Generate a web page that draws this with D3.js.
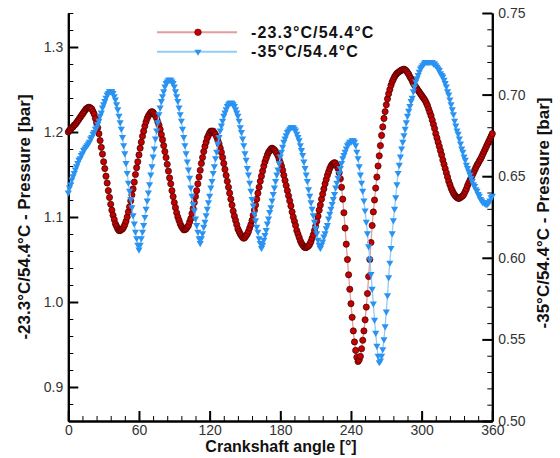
<!DOCTYPE html>
<html>
<head>
<meta charset="utf-8">
<script src="https://cdn.jsdelivr.net/npm/d3@7"></script>
<style>
  body { margin: 0; background: #fff; }
  text { font-family: "Liberation Sans", Arial, sans-serif; }
</style>
</head>
<body>
<svg width="560" height="458"></svg>
<script>
// crank angle step between samples [deg]
const angleStep = 1;

// -23.3°C/54.4°C pressure [bar], left axis, 0..360 deg
const pressureWarm = [
  1.200, 1.202, 1.203, 1.205, 1.206, 1.208, 1.209, 1.211, 1.213, 1.215,
  1.217, 1.219, 1.221, 1.223, 1.225, 1.227, 1.228, 1.229, 1.229, 1.228,
  1.227, 1.224, 1.221, 1.216, 1.211, 1.205, 1.198, 1.190, 1.182, 1.174,
  1.165, 1.157, 1.148, 1.140, 1.131, 1.123, 1.115, 1.108, 1.102, 1.097,
  1.092, 1.089, 1.086, 1.084, 1.084, 1.085, 1.086, 1.088, 1.091, 1.095,
  1.100, 1.106, 1.112, 1.119, 1.126, 1.133, 1.141, 1.150, 1.158, 1.165,
  1.173, 1.181, 1.188, 1.195, 1.201, 1.207, 1.212, 1.216, 1.219, 1.221,
  1.223, 1.224, 1.223, 1.221, 1.219, 1.216, 1.212, 1.208, 1.203, 1.197,
  1.191, 1.184, 1.177, 1.170, 1.162, 1.154, 1.146, 1.139, 1.131, 1.124,
  1.117, 1.111, 1.105, 1.100, 1.096, 1.092, 1.089, 1.087, 1.085, 1.085,
  1.086, 1.088, 1.090, 1.094, 1.098, 1.104, 1.110, 1.117, 1.124, 1.131,
  1.139, 1.147, 1.155, 1.163, 1.170, 1.177, 1.183, 1.188, 1.193, 1.196,
  1.199, 1.201, 1.201, 1.201, 1.199, 1.197, 1.194, 1.190, 1.186, 1.181,
  1.176, 1.170, 1.163, 1.156, 1.149, 1.142, 1.135, 1.128, 1.121, 1.114,
  1.107, 1.101, 1.096, 1.091, 1.086, 1.083, 1.080, 1.078, 1.076, 1.075,
  1.076, 1.078, 1.080, 1.083, 1.087, 1.091, 1.096, 1.102, 1.108, 1.114,
  1.121, 1.128, 1.135, 1.142, 1.148, 1.154, 1.160, 1.165, 1.169, 1.173,
  1.176, 1.178, 1.180, 1.181, 1.180, 1.179, 1.177, 1.175, 1.172, 1.168,
  1.164, 1.160, 1.155, 1.149, 1.143, 1.137, 1.131, 1.125, 1.119, 1.113,
  1.106, 1.100, 1.095, 1.090, 1.084, 1.080, 1.076, 1.072, 1.069, 1.067,
  1.065, 1.064, 1.064, 1.065, 1.066, 1.068, 1.071, 1.075, 1.079, 1.084,
  1.089, 1.095, 1.101, 1.108, 1.114, 1.121, 1.127, 1.133, 1.139, 1.144,
  1.149, 1.153, 1.157, 1.160, 1.162, 1.163, 1.164, 1.163, 1.160, 1.157,
  1.152, 1.145, 1.135, 1.121, 1.105, 1.087, 1.068, 1.050, 1.032, 1.015,
  0.998, 0.982, 0.966, 0.953, 0.943, 0.935, 0.930, 0.932, 0.936, 0.945,
  0.955, 0.966, 0.979, 0.994, 1.010, 1.030, 1.050, 1.070, 1.090, 1.106,
  1.120, 1.134, 1.147, 1.160, 1.172, 1.184, 1.196, 1.206, 1.216, 1.224,
  1.232, 1.239, 1.245, 1.250, 1.255, 1.259, 1.262, 1.265, 1.267, 1.269,
  1.270, 1.271, 1.272, 1.273, 1.273, 1.274, 1.273, 1.272, 1.270, 1.268,
  1.265, 1.263, 1.260, 1.257, 1.255, 1.253, 1.251, 1.249, 1.247, 1.245,
  1.243, 1.241, 1.239, 1.237, 1.234, 1.231, 1.227, 1.223, 1.219, 1.214,
  1.209, 1.204, 1.198, 1.193, 1.188, 1.183, 1.178, 1.173, 1.167, 1.162,
  1.157, 1.152, 1.147, 1.142, 1.138, 1.134, 1.131, 1.128, 1.126, 1.124,
  1.123, 1.122, 1.122, 1.123, 1.124, 1.125, 1.127, 1.130, 1.133, 1.137,
  1.140, 1.143, 1.146, 1.149, 1.152, 1.155, 1.158, 1.161, 1.163, 1.166,
  1.168, 1.171, 1.174, 1.177, 1.180, 1.183, 1.186, 1.189, 1.192, 1.195,
  1.198
];

// -35°C/54.4°C pressure [bar], right axis, 0..360 deg
const pressureCold = [
  0.640, 0.643, 0.645, 0.648, 0.650, 0.652, 0.654, 0.656, 0.658, 0.660,
  0.661, 0.663, 0.664, 0.666, 0.667, 0.668, 0.669, 0.670, 0.671, 0.673,
  0.674, 0.676, 0.677, 0.679, 0.680, 0.682, 0.684, 0.687, 0.689, 0.692,
  0.694, 0.696, 0.698, 0.700, 0.701, 0.702, 0.702, 0.702, 0.701, 0.699,
  0.697, 0.694, 0.691, 0.687, 0.683, 0.679, 0.674, 0.669, 0.664, 0.658,
  0.652, 0.646, 0.641, 0.636, 0.631, 0.626, 0.621, 0.616, 0.612, 0.608,
  0.605, 0.608, 0.612, 0.616, 0.620, 0.625, 0.630, 0.635, 0.640, 0.645,
  0.651, 0.656, 0.662, 0.667, 0.673, 0.678, 0.683, 0.688, 0.692, 0.696,
  0.699, 0.702, 0.705, 0.707, 0.708, 0.709, 0.709, 0.709, 0.708, 0.707,
  0.705, 0.702, 0.699, 0.696, 0.692, 0.688, 0.684, 0.679, 0.674, 0.669,
  0.664, 0.659, 0.654, 0.649, 0.643, 0.638, 0.633, 0.629, 0.624, 0.620,
  0.616, 0.612, 0.609, 0.612, 0.615, 0.619, 0.622, 0.626, 0.630, 0.634,
  0.638, 0.643, 0.647, 0.652, 0.656, 0.661, 0.665, 0.670, 0.674, 0.678,
  0.681, 0.684, 0.687, 0.689, 0.691, 0.693, 0.694, 0.695, 0.695, 0.695,
  0.694, 0.693, 0.691, 0.689, 0.687, 0.684, 0.680, 0.677, 0.673, 0.669,
  0.664, 0.660, 0.655, 0.651, 0.646, 0.641, 0.636, 0.632, 0.627, 0.623,
  0.619, 0.616, 0.612, 0.609, 0.606, 0.608, 0.611, 0.614, 0.617, 0.621,
  0.624, 0.628, 0.631, 0.635, 0.639, 0.643, 0.647, 0.651, 0.654, 0.658,
  0.662, 0.665, 0.668, 0.671, 0.673, 0.675, 0.677, 0.678, 0.679, 0.680,
  0.680, 0.680, 0.679, 0.678, 0.676, 0.674, 0.672, 0.669, 0.666, 0.663,
  0.659, 0.655, 0.651, 0.647, 0.642, 0.638, 0.634, 0.630, 0.626, 0.622,
  0.618, 0.615, 0.611, 0.608, 0.606, 0.608, 0.610, 0.613, 0.615, 0.618,
  0.620, 0.624, 0.627, 0.630, 0.633, 0.636, 0.639, 0.643, 0.646, 0.649,
  0.652, 0.655, 0.658, 0.661, 0.663, 0.665, 0.667, 0.669, 0.670, 0.671,
  0.671, 0.672, 0.672, 0.671, 0.669, 0.665, 0.661, 0.656, 0.651, 0.646,
  0.641, 0.635, 0.629, 0.622, 0.615, 0.607, 0.599, 0.590, 0.581, 0.572,
  0.562, 0.554, 0.546, 0.540, 0.536, 0.537, 0.540, 0.544, 0.550, 0.558,
  0.567, 0.577, 0.588, 0.597, 0.606, 0.615, 0.623, 0.630, 0.637, 0.645,
  0.652, 0.657, 0.662, 0.667, 0.671, 0.675, 0.679, 0.683, 0.687, 0.690,
  0.693, 0.696, 0.698, 0.702, 0.705, 0.708, 0.710, 0.712, 0.714, 0.716,
  0.717, 0.718, 0.719, 0.720, 0.720, 0.720, 0.720, 0.720, 0.720, 0.720,
  0.719, 0.719, 0.718, 0.717, 0.716, 0.715, 0.713, 0.712, 0.711, 0.709,
  0.707, 0.705, 0.702, 0.700, 0.697, 0.694, 0.691, 0.688, 0.684, 0.681,
  0.678, 0.676, 0.673, 0.670, 0.667, 0.665, 0.662, 0.660, 0.657, 0.655,
  0.653, 0.651, 0.649, 0.647, 0.645, 0.644, 0.642, 0.641, 0.639, 0.638,
  0.636, 0.635, 0.634, 0.634, 0.633, 0.633, 0.633, 0.634, 0.635, 0.637,
  0.638
];

const seriesNames = ["-23.3°C/54.4°C", "-35°C/54.4°C"];
const xTicks = [0, 60, 120, 180, 240, 300, 360];
const leftTicks = [0.9, 1.0, 1.1, 1.2, 1.3];
const rightTicks = [0.50, 0.55, 0.60, 0.65, 0.70, 0.75];
const xTitle = "Crankshaft angle [°]";
const leftTitle = "-23.3°C/54.4°C - Pressure [bar]";
const rightTitle = "-35°C/54.4°C - Pressure [bar]";

const warmColor = "#c40000", warmLine = "#e39d9d";
const coldColor = "#2a93f2", coldLine = "#93ccf4";

const svg = d3.select("svg");

const x = d3.scaleLinear().domain([0, 360]).range([68.3, 492.3]);
const yLeft = d3.scaleLinear().domain([0.86, 1.34]).range([421, 13]);
const yRight = d3.scaleLinear().domain([0.5, 0.75]).range([421, 13]);

const minor = (lo, hi, step) => d3.range(Math.round((hi - lo) / step) + 1).map(i => +(lo + i * step).toFixed(3));

// minor ticks first, majors on top
const styleAxis = (g, width) => {
  g.selectAll(".domain").attr("stroke", "#000").attr("stroke-width", 2);
  g.selectAll(".tick line").attr("stroke", "#000").attr("stroke-width", width);
  g.selectAll(".tick text").attr("fill", "#333").style("font-size", "14px");
};

svg.append("g").attr("transform", "translate(0,421)")
  .call(d3.axisBottom(x).tickValues(minor(0, 360, 12)).tickSize(-5).tickSizeOuter(0).tickFormat(""))
  .call(g => styleAxis(g, 1));
svg.append("g").attr("transform", "translate(68.3,0)")
  .call(d3.axisLeft(yLeft).tickValues(minor(0.86, 1.34, 0.02)).tickSize(-5).tickSizeOuter(0).tickFormat(""))
  .call(g => styleAxis(g, 1));
svg.append("g").attr("transform", "translate(492.3,0)")
  .call(d3.axisRight(yRight).tickValues(minor(0.5, 0.75, 0.01)).tickSize(-5).tickSizeOuter(0).tickFormat(""))
  .call(g => styleAxis(g, 1));

svg.append("g").attr("transform", "translate(0,421)")
  .call(d3.axisBottom(x).tickValues(xTicks).tickSize(-10).tickSizeOuter(0).tickPadding(4).tickFormat(d3.format("d")))
  .call(g => styleAxis(g, 2));
svg.append("g").attr("transform", "translate(68.3,0)")
  .call(d3.axisLeft(yLeft).tickValues(leftTicks).tickSize(-10).tickSizeOuter(0).tickPadding(5).tickFormat(d3.format(".1f")))
  .call(g => styleAxis(g, 2));
svg.append("g").attr("transform", "translate(492.3,0)")
  .call(d3.axisRight(yRight).tickValues(rightTicks).tickSize(-10).tickSizeOuter(0).tickPadding(6).tickFormat(d3.format(".2f")))
  .call(g => styleAxis(g, 2));

// axis titles
svg.append("text").attr("x", 281).attr("y", 452).attr("text-anchor", "middle")
  .style("font-size", "16px").style("font-weight", "bold").attr("fill", "#111").text(xTitle);
svg.append("text").attr("transform", "translate(30,217) rotate(-90)").attr("text-anchor", "middle")
  .style("font-size", "17px").style("font-weight", "bold").attr("fill", "#111").text(leftTitle);
svg.append("text").attr("transform", "translate(549,213) rotate(-90)").attr("text-anchor", "middle")
  .style("font-size", "17px").style("font-weight", "bold").attr("fill", "#111").text(rightTitle);

// series
const triangle = d3.symbol().type(d3.symbolTriangle).size(22);

const drawWarm = (g, data) => {
  g.append("path").datum(data)
    .attr("fill", "none").attr("stroke", warmLine).attr("stroke-width", 1.3)
    .attr("d", d3.line().x((d, i) => x(i * angleStep)).y(d => yLeft(d)));
  g.selectAll("circle").data(data).join("circle")
    .attr("cx", (d, i) => x(i * angleStep)).attr("cy", d => yLeft(d)).attr("r", 3.1)
    .attr("fill", warmColor).attr("stroke", "#3a0000").attr("stroke-width", 0.7);
};

const drawCold = (g, data) => {
  g.append("path").datum(data)
    .attr("fill", "none").attr("stroke", coldLine).attr("stroke-width", 1.3)
    .attr("d", d3.line().x((d, i) => x(i * angleStep)).y(d => yRight(d)));
  g.selectAll(".mark").data(data).join("path").attr("class", "mark")
    .attr("d", triangle)
    .attr("transform", (d, i) => `translate(${x(i * angleStep)},${yRight(d)}) rotate(180)`)
    .attr("fill", coldColor);
};

drawWarm(svg.append("g"), pressureWarm);
drawCold(svg.append("g"), pressureCold);

// legend
const legend = svg.append("g");
const legendY = [32.3, 51.7];
legendY.forEach((ly, i) => {
  legend.append("line").attr("x1", 157).attr("x2", 237).attr("y1", ly).attr("y2", ly)
    .attr("stroke", i === 0 ? warmLine : coldLine).attr("stroke-width", 2);
  if (i === 0) {
    legend.append("circle").attr("cx", 198).attr("cy", ly).attr("r", 3.3)
      .attr("fill", warmColor).attr("stroke", "#5a0000").attr("stroke-width", 0.6);
  } else {
    legend.append("path").attr("d", triangle).attr("transform", `translate(198,${ly}) rotate(180)`)
      .attr("fill", coldColor);
  }
  legend.append("text").attr("x", 251).attr("y", ly).attr("dy", "0.35em")
    .style("font-size", "16px").style("font-weight", "bold").style("letter-spacing", "1.1px")
    .attr("fill", "#111").text(seriesNames[i]);
});
</script>
</body>
</html>
